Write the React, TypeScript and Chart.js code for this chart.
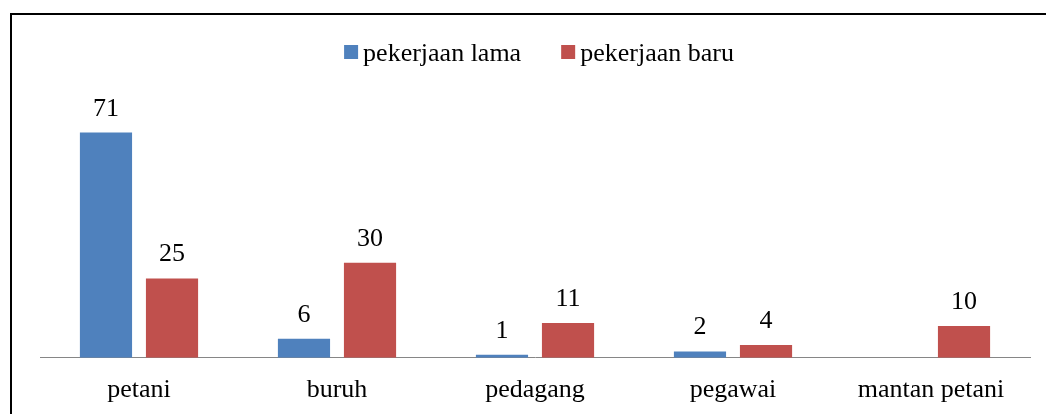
import React, { useEffect, useRef } from "react";
import { Chart, registerables } from "chart.js";

Chart.register(...registerables);

const categories = ["petani", "buruh", "pedagang", "pegawai", "mantan petani"];
const seriesNames = ["pekerjaan lama", "pekerjaan baru"];
const oldJobs: (number | null)[] = [71, 6, 1, 2, null];
const newJobs: (number | null)[] = [25, 30, 11, 4, 10];
const seriesColors = ["#4F81BD", "#C0504D"];

const FONT = "'Liberation Serif', 'Times New Roman', serif";

const framePlugin = {
  id: "frame",
  beforeDraw(chart: any) {
    const ctx = chart.ctx;
    ctx.save();
    ctx.fillStyle = "#ffffff";
    ctx.fillRect(0, 0, chart.width, chart.height);
    ctx.fillStyle = "#000000";
    ctx.fillRect(10, 13, 2, chart.height - 13);
    ctx.fillRect(10, 13, chart.width - 10, 2);
    ctx.restore();
  },
};

const legendPlugin = {
  id: "customLegend",
  afterDraw(chart: any) {
    const ctx = chart.ctx;
    ctx.save();
    ctx.font = `26px ${FONT}`;
    ctx.textBaseline = "alphabetic";
    ctx.textAlign = "left";
    const box = 14;
    const gapText = 5;
    const gapItem = 40;
    const items = chart.data.datasets.map((ds: any) => ({
      label: ds.label,
      color: ds.backgroundColor,
      w: ctx.measureText(ds.label).width,
    }));
    let total = 0;
    items.forEach((it: any, i: number) => {
      total += box + gapText + it.w + (i > 0 ? gapItem : 0);
    });
    let x = 539 - total / 2;
    items.forEach((it: any) => {
      ctx.fillStyle = it.color;
      ctx.fillRect(x, 45, box, box);
      ctx.fillStyle = "#000000";
      ctx.fillText(it.label, x + box + gapText, 61);
      x += box + gapText + it.w + gapItem;
    });
    ctx.restore();
  },
};

const valueLabelPlugin = {
  id: "valueLabels",
  afterDatasetsDraw(chart: any) {
    const ctx = chart.ctx;
    ctx.save();
    ctx.font = `26px ${FONT}`;
    ctx.fillStyle = "#000000";
    ctx.textAlign = "center";
    ctx.textBaseline = "alphabetic";
    chart.data.datasets.forEach((ds: any, di: number) => {
      const meta = chart.getDatasetMeta(di);
      meta.data.forEach((bar: any, i: number) => {
        const v = ds.data[i];
        if (v === null || v === undefined) return;
        ctx.fillText(String(v), bar.x, bar.y - 17);
      });
    });
    ctx.restore();
  },
};

export default function App() {
  const ref = useRef<HTMLCanvasElement | null>(null);
  useEffect(() => {
    if (!ref.current) return;
    const chart = new Chart(ref.current, {
      type: "bar",
      data: {
        labels: categories,
        datasets: [
          { label: seriesNames[0], data: oldJobs, backgroundColor: seriesColors[0] },
          { label: seriesNames[1], data: newJobs, backgroundColor: seriesColors[1] },
        ],
      },
      options: {
        animation: false,
        responsive: false,
        devicePixelRatio: 1,
        layout: { padding: { left: 40, right: 16, top: 104, bottom: -9 } },
        datasets: {
          bar: { categoryPercentage: 0.667, barPercentage: 0.79 },
        },
        plugins: {
          legend: { display: false },
          tooltip: { enabled: false },
        },
        scales: {
          x: {
            grid: { display: false, drawTicks: false },
            border: { display: true, color: "#868686", width: 1 },
            ticks: { color: "#000000", font: { family: FONT, size: 26 }, padding: 17 },
          },
          y: {
            display: false,
            min: 0,
            max: 80,
          },
        },
      },
      plugins: [framePlugin, legendPlugin, valueLabelPlugin],
    });
    return () => chart.destroy();
  }, []);
  return (
    <div style={{ position: "fixed", left: 0, top: 0, width: 1046, height: 414, background: "#fff" }}>
      <canvas ref={ref} width={1046} height={414} style={{ width: 1046, height: 414, display: "block" }} />
    </div>
  );
}
